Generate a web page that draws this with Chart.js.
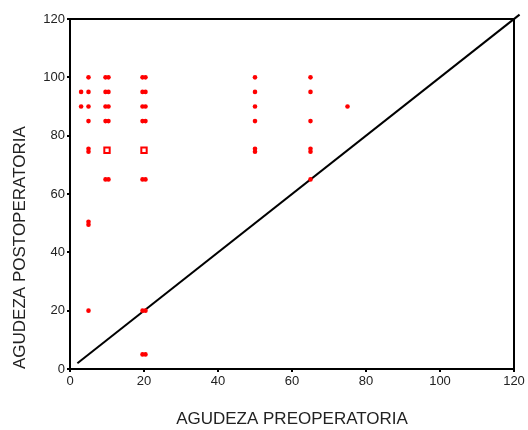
<!DOCTYPE html>
<html>
<head>
<meta charset="utf-8">
<script src="https://cdn.jsdelivr.net/npm/chart.js@4/dist/chart.umd.min.js"></script>
<style>
  html, body { margin: 0; padding: 0; background: #fff; }
  #wrap { width: 528px; height: 430px; }
</style>
</head>
<body>
<div id="wrap"><canvas id="grafico"></canvas></div>
<script>
// ===== datos =====
// agudeza preoperatoria / postoperatoria de cada punto
const preop = [
  3, 3,
  5, 5, 5, 5, 5, 5, 5, 5, 5,
  9.6, 10.4, 9.6, 10.4, 9.6, 10.4, 9.6, 10.4, 9.6, 10.4,
  19.6, 20.4, 19.6, 20.4, 19.6, 20.4, 19.6, 20.4, 19.6, 20.4, 19.6, 20.4, 19.6, 20.4,
  50, 50, 50, 50, 50, 50,
  65, 65, 65, 65, 65, 65,
  75
];
const postop = [
  95, 90,
  100, 95, 90, 85, 74.5, 75.5, 49.5, 50.5, 20,
  100, 100, 95, 95, 90, 90, 85, 85, 65, 65,
  100, 100, 95, 95, 90, 90, 85, 85, 65, 65, 20, 20, 5, 5,
  100, 95, 90, 85, 74.5, 75.5,
  100, 95, 85, 74.5, 75.5, 65,
  90
];
// puntos superpuestos (marca hueca)
const preopSup = [10, 20];
const postopSup = [75, 75];
// línea de referencia y = x
const refX = [2, 121.5];
const refY = [2, 121.5];
const ticks = [0, 20, 40, 60, 80, 100, 120];

const rojo = '#ff0000';
const familia = 'Liberation Sans, Arial, sans-serif';

// marco completo alrededor del área del gráfico
const marco = {
  id: 'marco',
  afterDatasetsDraw(chart) {
    const a = chart.chartArea;
    const c = chart.ctx;
    c.save();
    c.strokeStyle = '#000';
    c.lineWidth = 2;
    c.strokeRect(a.left, a.top, a.right - a.left, a.bottom - a.top);
    c.restore();
  }
};

const toXY = (xs, ys) => xs.map((x, i) => ({ x: x, y: ys[i] }));

new Chart(document.getElementById('grafico'), {
  type: 'scatter',
  data: {
    datasets: [
      {
        type: 'line',
        data: toXY(refX, refY),
        borderColor: '#000',
        borderWidth: 2,
        pointRadius: 0,
        clip: false,
        order: 3
      },
      {
        data: toXY(preop, postop),
        backgroundColor: rojo,
        borderWidth: 0,
        pointRadius: 2.3,
        order: 1
      },
      {
        data: toXY(preopSup, postopSup),
        backgroundColor: '#fff',
        borderColor: rojo,
        borderWidth: 2,
        pointStyle: 'rect',
        pointRadius: 3.8,
        order: 0
      }
    ]
  },
  options: {
    responsive: true,
    maintainAspectRatio: false,
    animation: false,
    layout: { padding: { top: 19, right: 14, bottom: 0, left: 0 } },
    plugins: {
      legend: { display: false },
      tooltip: { enabled: false }
    },
    scales: {
      x: {
        type: 'linear',
        min: 0, max: 120,
        afterBuildTicks: s => { s.ticks = ticks.map(v => ({ value: v })); },
        grid: { drawOnChartArea: false, tickLength: 3, color: '#000', lineWidth: 2 },
        border: { display: true, color: '#000', width: 2 },
        ticks: { color: '#222', font: { family: familia, size: 13 }, padding: 2, maxRotation: 0 },
        title: {
          display: true,
          text: 'AGUDEZA PREOPERATORIA',
          color: '#222',
          font: { family: familia, size: 17 },
          padding: { top: 4, bottom: 0 }
        },
        afterFit: s => { s.height = 61; }
      },
      y: {
        type: 'linear',
        min: 0, max: 120,
        afterBuildTicks: s => { s.ticks = ticks.map(v => ({ value: v })); },
        grid: { drawOnChartArea: false, tickLength: 3, color: '#000', lineWidth: 2 },
        border: { display: true, color: '#000', width: 2 },
        ticks: { color: '#222', font: { family: familia, size: 13 }, padding: 2 },
        title: {
          display: true,
          text: 'AGUDEZA POSTOPERATORIA',
          align: 'start',
          color: '#222',
          font: { family: familia, size: 17 },
          padding: { top: 10, bottom: 0 }
        },
        afterFit: s => { s.width = 70; }
      }
    }
  },
  plugins: [marco]
});
</script>
</body>
</html>
